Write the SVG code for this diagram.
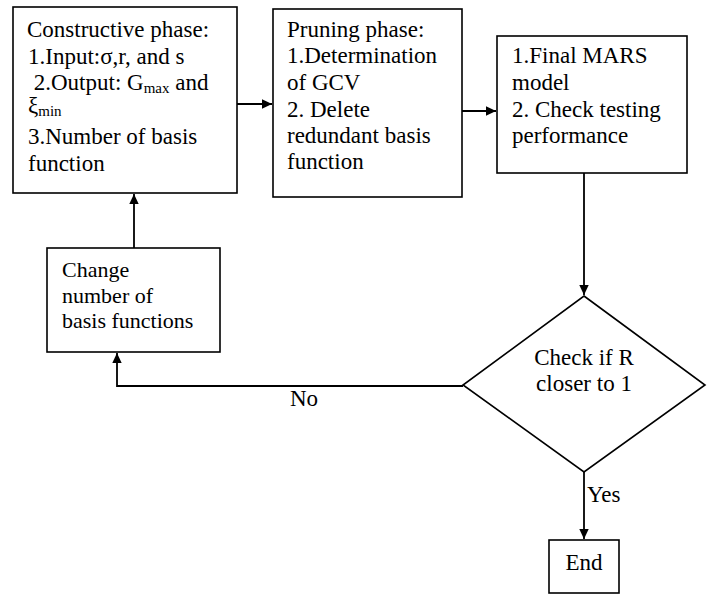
<svg xmlns="http://www.w3.org/2000/svg" width="707" height="594" viewBox="0 0 707 594" font-family="'Liberation Serif', Tinos, 'DejaVu Serif', serif">
<defs>
<marker id="ah" markerWidth="10" markerHeight="10" viewBox="0 0 10 10" refX="10" refY="5" orient="auto" markerUnits="userSpaceOnUse">
<path d="M0,0.3 L10,5 L0,9.7 Z" fill="#000"/>
</marker>
<style>
.box{fill:#fff;stroke:#000;stroke-width:1.6}
text{font-family:'Liberation Serif', Tinos, 'DejaVu Serif', serif;font-size:23px;fill:#000}
.s{font-size:22px}
.sub{font-size:15px}
.c{fill:none;stroke:#000;stroke-width:1.8}
</style>
</defs>
<rect width="707" height="594" fill="#fff"/>
<g id="connectors">
<path class="c" d="M237,104 H272" marker-end="url(#ah)"/>
<path class="c" d="M462,111 H496" marker-end="url(#ah)"/>
<path class="c" d="M584,173 V295" marker-end="url(#ah)"/>
<path class="c" d="M584,472 V539" marker-end="url(#ah)"/>
<path class="c" d="M463,386 H117 V353" marker-end="url(#ah)"/>
<path class="c" d="M134,248 V194" marker-end="url(#ah)"/>
<text x="290" y="406">No</text>
<text x="587" y="502">Yes</text>
</g>
<g id="constructive">
<rect class="box" x="13" y="7" width="224" height="186"/>
<text x="27" y="37">Constructive phase:</text>
<text x="28" y="64">1.Input:σ,r, and s</text>
<text x="28" y="90" xml:space="preserve"> 2.Output: G<tspan class="sub" dy="3">max</tspan><tspan dy="-3"> and</tspan></text>
<text x="28" y="113">ξ<tspan class="sub" dy="3">min</tspan></text>
<text x="28" y="144">3.Number of basis</text>
<text x="28" y="171">function</text>
</g>
<g id="pruning">
<rect class="box" x="273" y="9" width="189" height="188"/>
<text x="287" y="37">Pruning phase:</text>
<text x="287" y="63">1.Determination</text>
<text x="287" y="90">of GCV</text>
<text x="287" y="117">2. Delete</text>
<text x="287" y="143">redundant basis</text>
<text x="287" y="169">function</text>
</g>
<g id="final">
<rect class="box" x="497" y="36" width="190" height="137"/>
<text x="512" y="63">1.Final MARS</text>
<text x="512" y="90">model</text>
<text x="512" y="117">2. Check testing</text>
<text x="512" y="143">performance</text>
</g>
<g id="change">
<rect class="box" x="47" y="248" width="173" height="104"/>
<text class="s" x="62" y="277">Change</text>
<text class="s" x="62" y="303">number of</text>
<text class="s" x="62" y="328">basis functions</text>
</g>
<g id="decision">
<polygon class="box" points="584,296 705,385 584,472 463,385"/>
<text x="584" y="365" text-anchor="middle">Check if R</text>
<text x="584" y="391" text-anchor="middle">closer to 1</text>
</g>
<g id="end">
<rect class="box" x="549" y="540" width="70" height="53"/>
<text x="584" y="570" text-anchor="middle">End</text>
</g>
</svg>
